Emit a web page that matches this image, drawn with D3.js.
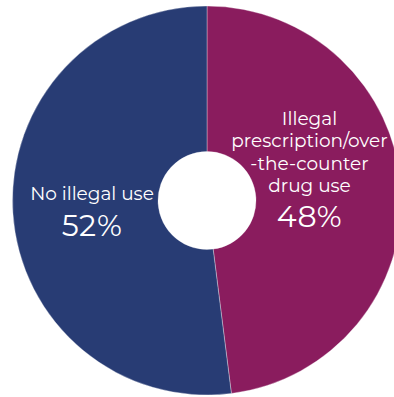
<!DOCTYPE html>
<html>
<head>
<meta charset="utf-8">
<script src="https://cdn.jsdelivr.net/npm/d3@7"></script>
<style>
  html, body { margin: 0; padding: 0; background: #fff; }
  svg { display: block; }
</style>
</head>
<body>
<svg id="chart" width="394" height="397"></svg>
<script>
// Share of respondents by drug-use category (percent)
const categories = ["Illegal prescription/over-the-counter drug use", "No illegal use"];
const values = [48, 52];
const labelLines = [["Illegal", "prescription/over", "-the-counter", "drug use"], ["No illegal use"]];
const colors = ["#8A1C5E", "#283C74"];

const svg = d3.select("#chart");
const cx = 207, cy = 200.5;
const outerR = 194.5, innerR = 49;

const pie = d3.pie().sort(null).value(d => d)(values);
const arc = d3.arc().innerRadius(innerR).outerRadius(outerR);

const g = svg.append("g").attr("transform", `translate(${cx},${cy})`);

g.selectAll("path.slice")
  .data(pie)
  .join("path")
  .attr("class", "slice")
  .attr("d", arc)
  .attr("fill", (d, i) => colors[i])
  .attr("stroke", "rgba(255,255,255,0.55)")
  .attr("stroke-width", 0.6);

// Label blocks: category name lines followed by the percentage
const font = "Montserrat, 'Open Sans', Lato, sans-serif";
const labelPos = [
  { x: 102.5, y: -75.5 },  // first baseline, relative to centre
  { x: -115, y: -0.5 }
];
const lineH = 22.3;

pie.forEach((p, i) => {
  const lines = labelLines[i];
  const t = g.append("text")
    .attr("text-anchor", "middle")
    .attr("fill", "#fff")
    .style("font-family", font)
    .style("font-size", "18.5px");
  lines.forEach((ln, j) => {
    t.append("tspan")
      .attr("x", labelPos[i].x)
      .attr("y", labelPos[i].y + j * lineH)
      .text(ln);
  });
  g.append("text")
    .attr("text-anchor", "middle")
    .attr("fill", "#fff")
    .style("font-family", font)
    .style("font-size", "30px")
    .style("letter-spacing", "0.5px")
    .attr("x", labelPos[i].x)
    .attr("y", labelPos[i].y + (lines.length - 1) * lineH + 35.5)
    .text(d3.format(".0f")(p.data) + "%");
});
</script>
</body>
</html>
